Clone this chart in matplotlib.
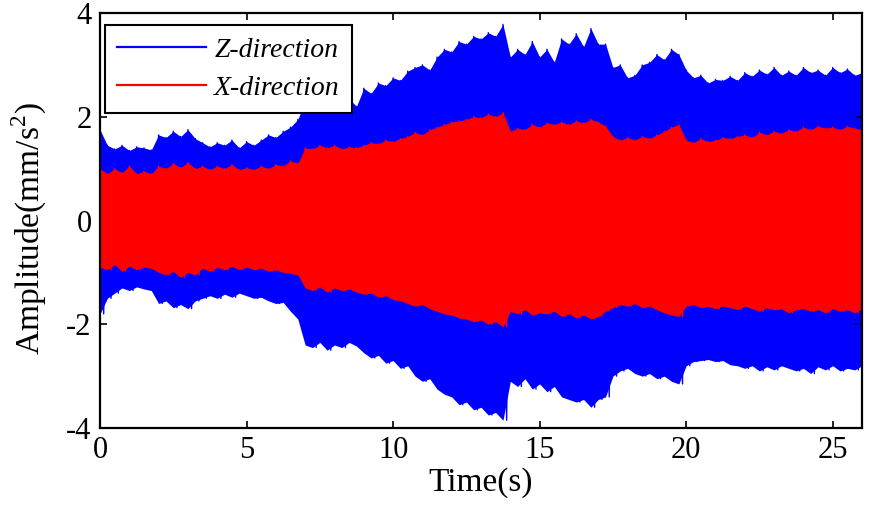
import numpy as np
import matplotlib
matplotlib.use("Agg")
import matplotlib.pyplot as plt

plt.rcParams['font.family'] = ['Liberation Serif', 'DejaVu Serif']
plt.rcParams['axes.unicode_minus'] = False
plt.rcParams['mathtext.fontset'] = 'custom'
plt.rcParams['mathtext.rm'] = 'Liberation Serif'

# time grid of the envelope readings (s)
time_s = np.arange(0, 26.001, 0.25)

# Z-direction peak envelope (mm/s^2)
z_upper = [1.75, 1.45, 1.38, 1.45, 1.35, 1.42, 1.40, 1.36, 1.65, 1.60,
           1.72, 1.62, 1.75, 1.58, 1.50, 1.42, 1.50, 1.45, 1.55, 1.40,
           1.52, 1.45, 1.55, 1.65, 1.60, 1.72, 1.80, 1.95, 2.30, 2.20,
           2.45, 2.30, 2.40, 2.25, 2.35, 2.20, 2.55, 2.45, 2.65, 2.60,
           2.75, 2.70, 2.88, 2.95, 3.00, 2.90, 3.15, 3.30, 3.25, 3.45,
           3.40, 3.55, 3.50, 3.62, 3.55, 3.78, 3.15, 3.30, 3.20, 3.45,
           3.15, 3.30, 3.05, 3.50, 3.40, 3.60, 3.35, 3.70, 3.40, 3.40,
           2.95, 3.00, 2.75, 2.80, 3.00, 3.05, 3.20, 3.10, 3.30, 3.20,
           2.90, 2.75, 2.80, 2.65, 2.72, 2.70, 2.78, 2.70, 2.85, 2.78,
           2.90, 2.82, 2.95, 2.80, 2.88, 2.80, 2.95, 2.85, 2.90, 2.80,
           2.95, 2.85, 2.92, 2.80, 2.85]
z_lower = [-1.80, -1.50, -1.40, -1.30, -1.35, -1.28, -1.32, -1.35, -1.60, -1.55,
           -1.68, -1.62, -1.70, -1.55, -1.50, -1.45, -1.50, -1.42, -1.48, -1.40,
           -1.45, -1.50, -1.48, -1.55, -1.60, -1.58, -1.75, -1.90, -2.40, -2.45,
           -2.35, -2.50, -2.40, -2.45, -2.35, -2.42, -2.55, -2.65, -2.60, -2.75,
           -2.70, -2.85, -2.80, -3.00, -3.10, -3.05, -3.25, -3.35, -3.40, -3.55,
           -3.50, -3.65, -3.60, -3.75, -3.70, -3.85, -3.10, -3.20, -3.05, -3.25,
           -3.15, -3.30, -3.20, -3.40, -3.45, -3.50, -3.45, -3.60, -3.45, -3.40,
           -3.00, -2.90, -2.85, -2.95, -3.00, -2.95, -3.05, -3.00, -3.10, -3.15,
           -2.80, -2.72, -2.70, -2.68, -2.72, -2.70, -2.78, -2.80, -2.85, -2.80,
           -2.90, -2.82, -2.88, -2.80, -2.85, -2.90, -2.85, -2.95, -2.82, -2.88,
           -2.80, -2.90, -2.85, -2.88, -2.80]

# X-direction peak envelope (mm/s^2)
x_upper = [1.00, 0.90, 1.00, 0.92, 1.05, 0.90, 0.95, 0.90, 1.05, 1.00,
           1.10, 1.02, 1.12, 1.00, 1.05, 0.98, 1.05, 1.00, 1.08, 0.98,
           1.02, 0.98, 1.05, 1.00, 1.08, 1.05, 1.15, 1.10, 1.40, 1.38,
           1.45, 1.40, 1.45, 1.38, 1.42, 1.40, 1.45, 1.50, 1.48, 1.55,
           1.52, 1.58, 1.62, 1.70, 1.65, 1.75, 1.80, 1.85, 1.90, 1.92,
           1.95, 2.00, 1.98, 2.05, 2.00, 2.08, 1.72, 1.78, 1.75, 1.85,
           1.80, 1.88, 1.85, 1.90, 1.85, 1.92, 1.88, 1.95, 1.90, 1.82,
           1.62, 1.55, 1.60, 1.55, 1.62, 1.58, 1.65, 1.72, 1.80, 1.85,
           1.55, 1.50, 1.58, 1.52, 1.55, 1.60, 1.58, 1.62, 1.65, 1.60,
           1.70, 1.65, 1.72, 1.68, 1.75, 1.72, 1.80, 1.75, 1.82, 1.78,
           1.80, 1.75, 1.82, 1.78, 1.75]
x_lower = [-0.90, -0.95, -0.85, -0.98, -0.88, -0.95, -0.90, -0.92, -1.00, -1.05,
           -0.98, -1.10, -1.00, -1.05, -0.92, -0.98, -0.90, -0.95, -0.88, -0.95,
           -0.90, -0.95, -0.92, -0.98, -0.95, -1.00, -1.02, -1.05, -1.30, -1.35,
           -1.28, -1.38, -1.30, -1.35, -1.32, -1.38, -1.42, -1.40, -1.48, -1.45,
           -1.52, -1.55, -1.60, -1.65, -1.62, -1.70, -1.75, -1.80, -1.82, -1.88,
           -1.90, -1.95, -1.92, -2.00, -1.95, -2.05, -1.75, -1.80, -1.72, -1.82,
           -1.78, -1.80, -1.75, -1.85, -1.80, -1.88, -1.82, -1.90, -1.85, -1.75,
           -1.68, -1.62, -1.65, -1.60, -1.68, -1.65, -1.72, -1.78, -1.82, -1.85,
           -1.65, -1.62, -1.68, -1.65, -1.70, -1.65, -1.68, -1.72, -1.65, -1.70,
           -1.75, -1.68, -1.72, -1.70, -1.78, -1.72, -1.70, -1.75, -1.72, -1.78,
           -1.70, -1.75, -1.72, -1.78, -1.70]

series_names = ["Z-direction", "X-direction"]
series_colors = ["#0000ff", "#ff0000"]
x_ticks = [0, 5, 10, 15, 20, 25]
y_ticks = [-4, -2, 0, 2, 4]

fig = plt.figure(figsize=(8.73, 5.07), dpi=100)
ax = fig.add_axes([100 / 873, 1 - 428 / 507, 762 / 873, 415 / 507])

half = 0.125
handles = []
z = 1
for up, lo, name, col in [(z_upper, z_lower, series_names[0], series_colors[0]),
                          (x_upper, x_lower, series_names[1], series_colors[1])]:
    up = np.asarray(up)
    lo = np.asarray(lo)
    tz = np.column_stack([time_s, time_s + half]).ravel()
    vz = np.column_stack([up, lo]).ravel()
    up_i = np.interp(tz, time_s, up)
    lo_i = np.interp(tz, time_s, lo)
    ax.fill_between(tz, lo_i, up_i, color=col, linewidth=0, zorder=z)
    h, = ax.plot(tz, vz, color=col, linewidth=1.0, label=name, zorder=z + 1)
    handles.append(h)
    z += 2

ax.set_xlim(0, 26)
ax.set_ylim(-4, 4)
ax.set_xticks(x_ticks)
ax.set_yticks(y_ticks)
ax.set_xticklabels([str(v) for v in x_ticks])
ax.set_yticklabels([str(v) for v in y_ticks])
ax.tick_params(direction='in', length=5, width=1.2, top=True, right=True,
               labelsize=22, pad=6)
for s in ax.spines.values():
    s.set_linewidth(1.6)
    s.set_zorder(10)

ax.set_xlabel("Time(s)", fontsize=24, labelpad=1)
ax.set_ylabel(r"Amplitude(mm/s$^2$)", fontsize=24)
ax.yaxis.set_label_coords(-0.067, 0.48)

leg = ax.legend(handles=handles, loc='upper left', bbox_to_anchor=(0.006, 0.972),
                prop={'family': 'Liberation Serif', 'style': 'italic', 'size': 20},
                handlelength=3.2, handletextpad=0.3, borderpad=0.45,
                labelspacing=0.45, borderaxespad=0, fancybox=False,
                framealpha=1, edgecolor='black')
leg.get_frame().set_linewidth(1.5)
for lh in leg.get_lines():
    lh.set_linewidth(1.6)
leg.set_zorder(11)

fig.savefig("out.png", dpi=100)
